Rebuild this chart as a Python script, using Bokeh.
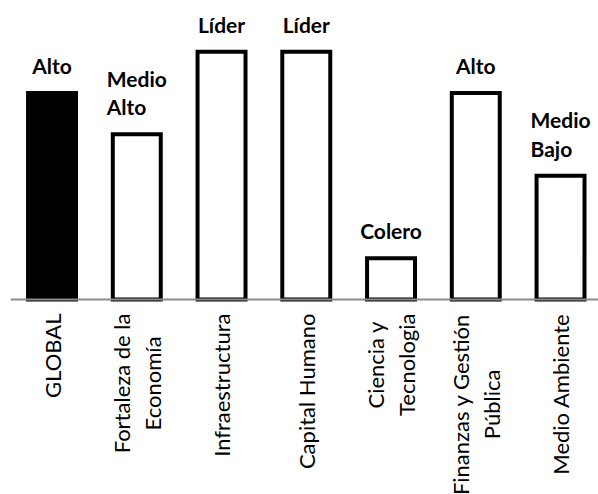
import math
from bokeh.plotting import figure
from bokeh.models import ColumnDataSource, Range1d, LabelSet, Label, Span
from bokeh.core.properties import value
from bokeh.embed import file_html
from bokeh.resources import INLINE

categories = ["GLOBAL", "Fortaleza de la\nEconomía", "Infraestructura", "Capital Humano",
              "Ciencia y\nTecnologia", "Finanzas y Gestión\nPública", "Medio Ambiente"]
levels = ["Alto", "Medio\nAlto", "Líder", "Líder", "Colero", "Alto", "Medio\nBajo"]
scores = [5, 4, 6, 6, 1, 5, 3]
fills = ["black", "white", "white", "white", "white", "white", "white"]

xs = list(range(len(categories)))
src = ColumnDataSource(dict(x=xs, top=scores, level=levels, fill=fills))

p = figure(width=598, height=494, x_range=Range1d(-0.49, 6.448), y_range=Range1d(-4.72, 7.24),
           output_backend="svg", toolbar_location=None, x_axis_location=None,
           y_axis_location=None, min_border_left=10, min_border_right=0,
           min_border_top=0, min_border_bottom=0)
p.outline_line_color = None
p.xgrid.visible = False
p.ygrid.visible = False
p.background_fill_color = "white"
p.border_fill_color = "white"

p.vbar(x="x", top="top", bottom=0, width=0.566, fill_color="fill", line_color="black",
       line_width=4, line_join="miter", source=src)

p.add_layout(Span(location=0, dimension="width", line_color="#8c8c8c", line_width=2))

labels = LabelSet(x="x", y="top", text="level", source=src, text_align="center",
                  text_baseline="bottom", y_offset=15, text_font=value("Lato"),
                  text_font_style="bold", text_font_size="21px", text_color="black",
                  text_line_height=1.15)
p.add_layout(labels)

for i, c in zip(xs, categories):
    p.add_layout(Label(x=i, y=0, text=c, angle=math.pi / 2, anchor="center_right",
                       text_align="center", y_offset=-14, text_font="Lato",
                       text_font_size="22px", text_color="black",
                       text_line_height=1.15))

open("out.html", "w").write(file_html(p, INLINE))
